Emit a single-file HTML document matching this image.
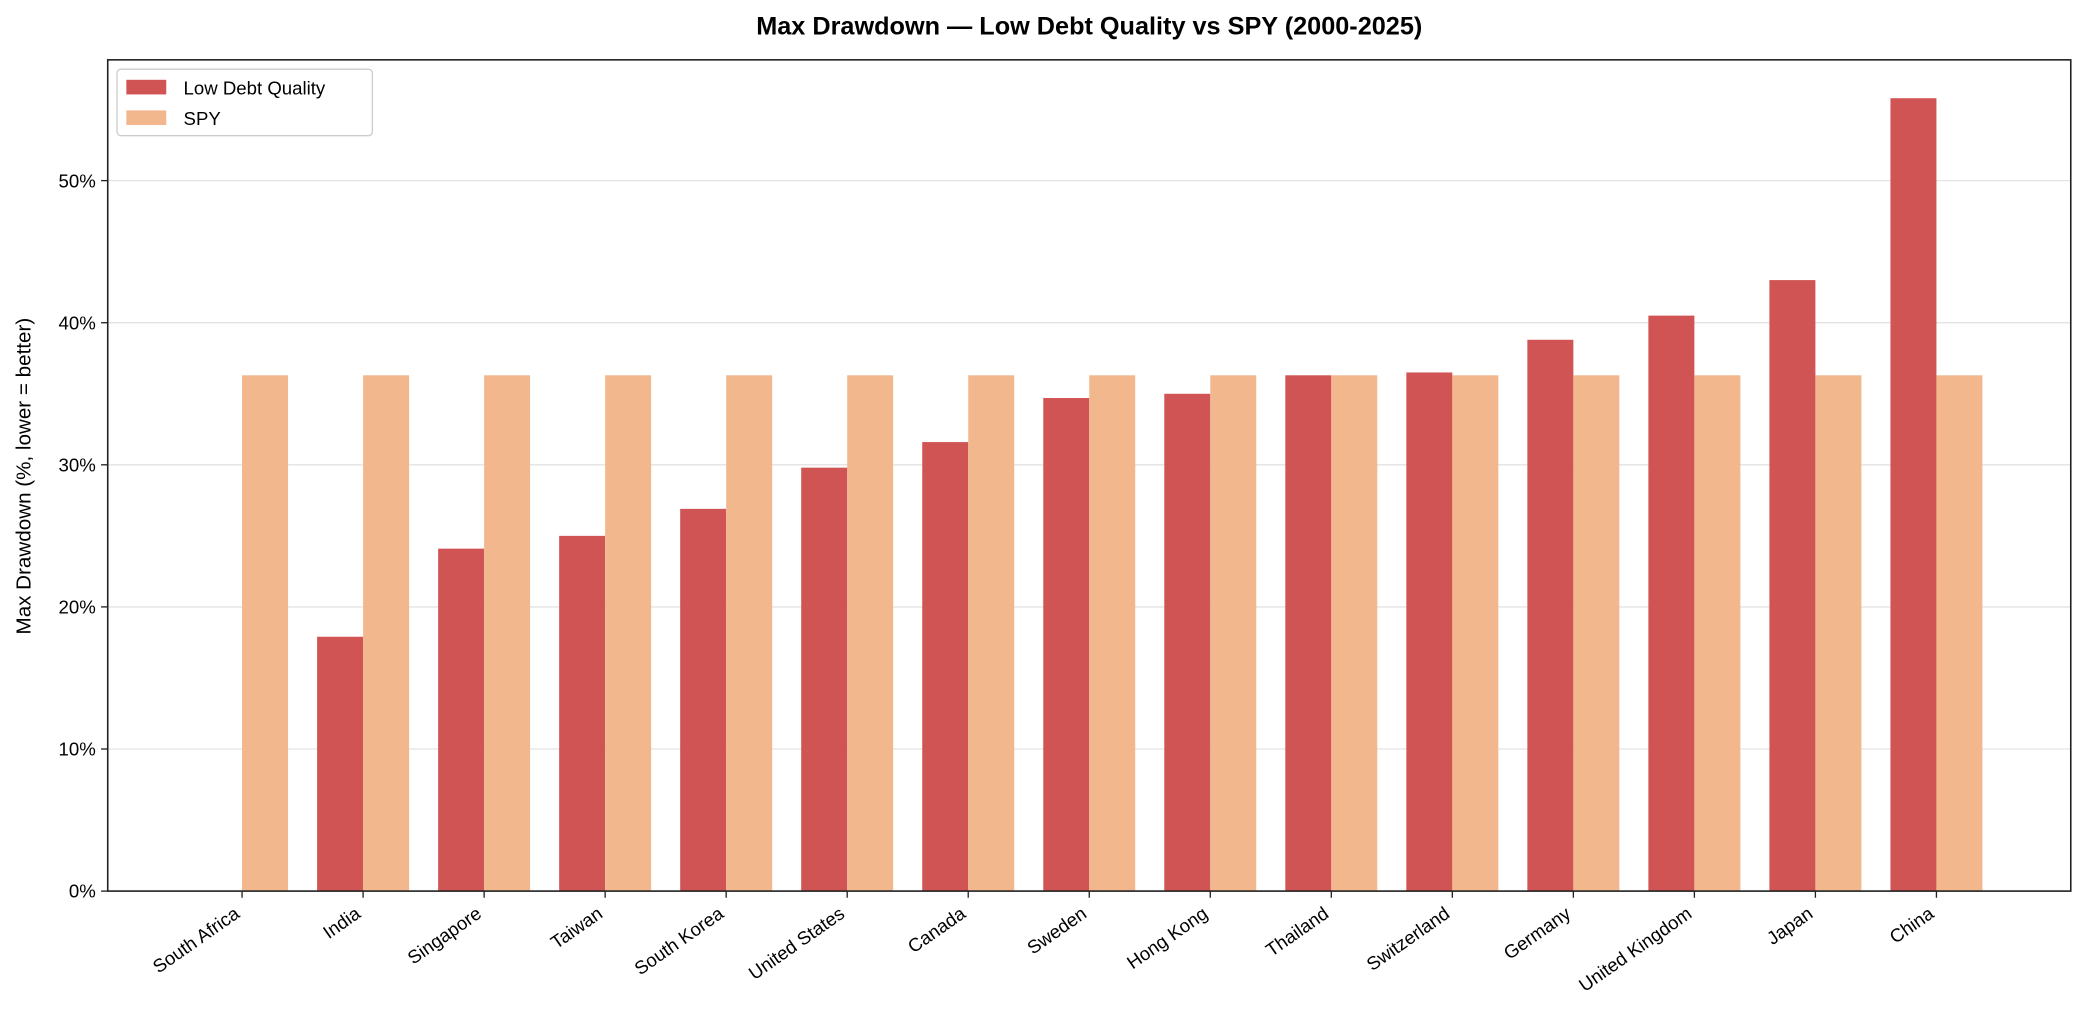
<!DOCTYPE html>
<html><head><meta charset="utf-8"><style>
html,body{margin:0;padding:0;background:#fff;overflow:hidden;}
svg{display:block;font-family:"Liberation Sans","DejaVu Sans",sans-serif;}
</style></head><body>
<svg id="chart" width="2085" height="1033" viewBox="0 0 1567.7 776.7" preserveAspectRatio="none" xmlns="http://www.w3.org/2000/svg">
<rect width="1567.7" height="776.7" fill="#fff"/>
<text x="819" y="26" text-anchor="middle" font-size="19" font-weight="bold" fill="#000">Max Drawdown — Low Debt Quality vs SPY (2000-2025)</text>
<g id="grid"></g>
<g id="bars"></g>
<rect x="81" y="45" width="1476" height="625" fill="none" stroke="#222" stroke-width="1.2"/>
<g id="axes"></g>
<text transform="translate(23,358) rotate(-90)" text-anchor="middle" font-size="15.5" fill="#000">Max Drawdown (%, lower = better)</text>
<g>
<rect x="88" y="52" width="192" height="50" rx="3" fill="#fff" fill-opacity="0.8" stroke="#ccc"/>
<rect x="95" y="60" width="30" height="11" fill="#d15454"/>
<text x="138" y="71" font-size="14">Low Debt Quality</text>
<rect x="95" y="83" width="30" height="11" fill="#f2b78c"/>
<text x="138" y="94" font-size="14">SPY</text>
</g>
</svg>
<script>
const categories=["South Africa","India","Singapore","Taiwan","South Korea","United States","Canada","Sweden","Hong Kong","Thailand","Switzerland","Germany","United Kingdom","Japan","China"];
const lowDebt=[0,17.9,24.1,25.0,26.9,29.8,31.6,34.7,35.0,36.3,36.5,38.8,40.5,43.0,55.8];
const spy=[36.3,36.3,36.3,36.3,36.3,36.3,36.3,36.3,36.3,36.3,36.3,36.3,36.3,36.3,36.3];
const yTicks=[0,10,20,30,40,50];
const yTickLabels=["0%","10%","20%","30%","40%","50%"];
const NS="http://www.w3.org/2000/svg";
const L=81,R=1557,T=45,B=670,xmin=-1.11,xmax=categories.length-1+1.11,ymax=58.5;
const x=i=>L+(i-xmin)/(xmax-xmin)*(R-L);
const y=v=>B-v/ymax*(B-T);
const unit=(R-L)/(xmax-xmin),bw=0.38*unit;
function mk(tag,attrs,parent){const e=document.createElementNS(NS,tag);for(const k in attrs)e.setAttribute(k,attrs[k]);parent.appendChild(e);return e;}
const grid=document.getElementById('grid'),bars=document.getElementById('bars'),axes=document.getElementById('axes');
yTicks.forEach((t,i)=>{
 const g=mk('line',{x1:L,x2:R,y1:y(t),y2:y(t),stroke:'#e3e3e3','stroke-width':1},grid);
 
 
 const tk=mk('line',{x1:L-5,x2:L,y1:y(t),y2:y(t),stroke:'#222'},axes);
 
 
 const lb=mk('text',{x:L-9,y:y(t)+5,'text-anchor':'end','font-size':14},axes);
 lb.textContent=yTickLabels[i];
 
 
});
categories.forEach((c,i)=>{
 const cx=x(i);
 if(lowDebt[i]>0){
  const r=mk('rect',{x:cx-bw,y:y(lowDebt[i]),width:bw,height:B-y(lowDebt[i]),fill:'#d15454'},bars);
  
  
 }
 const s=mk('rect',{x:cx,y:y(spy[i]),width:bw,height:B-y(spy[i]),fill:'#f2b78c'},bars);
 
 
 const tk=mk('line',{x1:cx,x2:cx,y1:B,y2:B+5,stroke:'#222'},axes);
 
 
 const lb=mk('text',{transform:`translate(${cx-1},${B+19}) rotate(-35)`,'text-anchor':'end','font-size':14},axes);
 lb.textContent=c;
 
 
});
</script>
</body></html>
